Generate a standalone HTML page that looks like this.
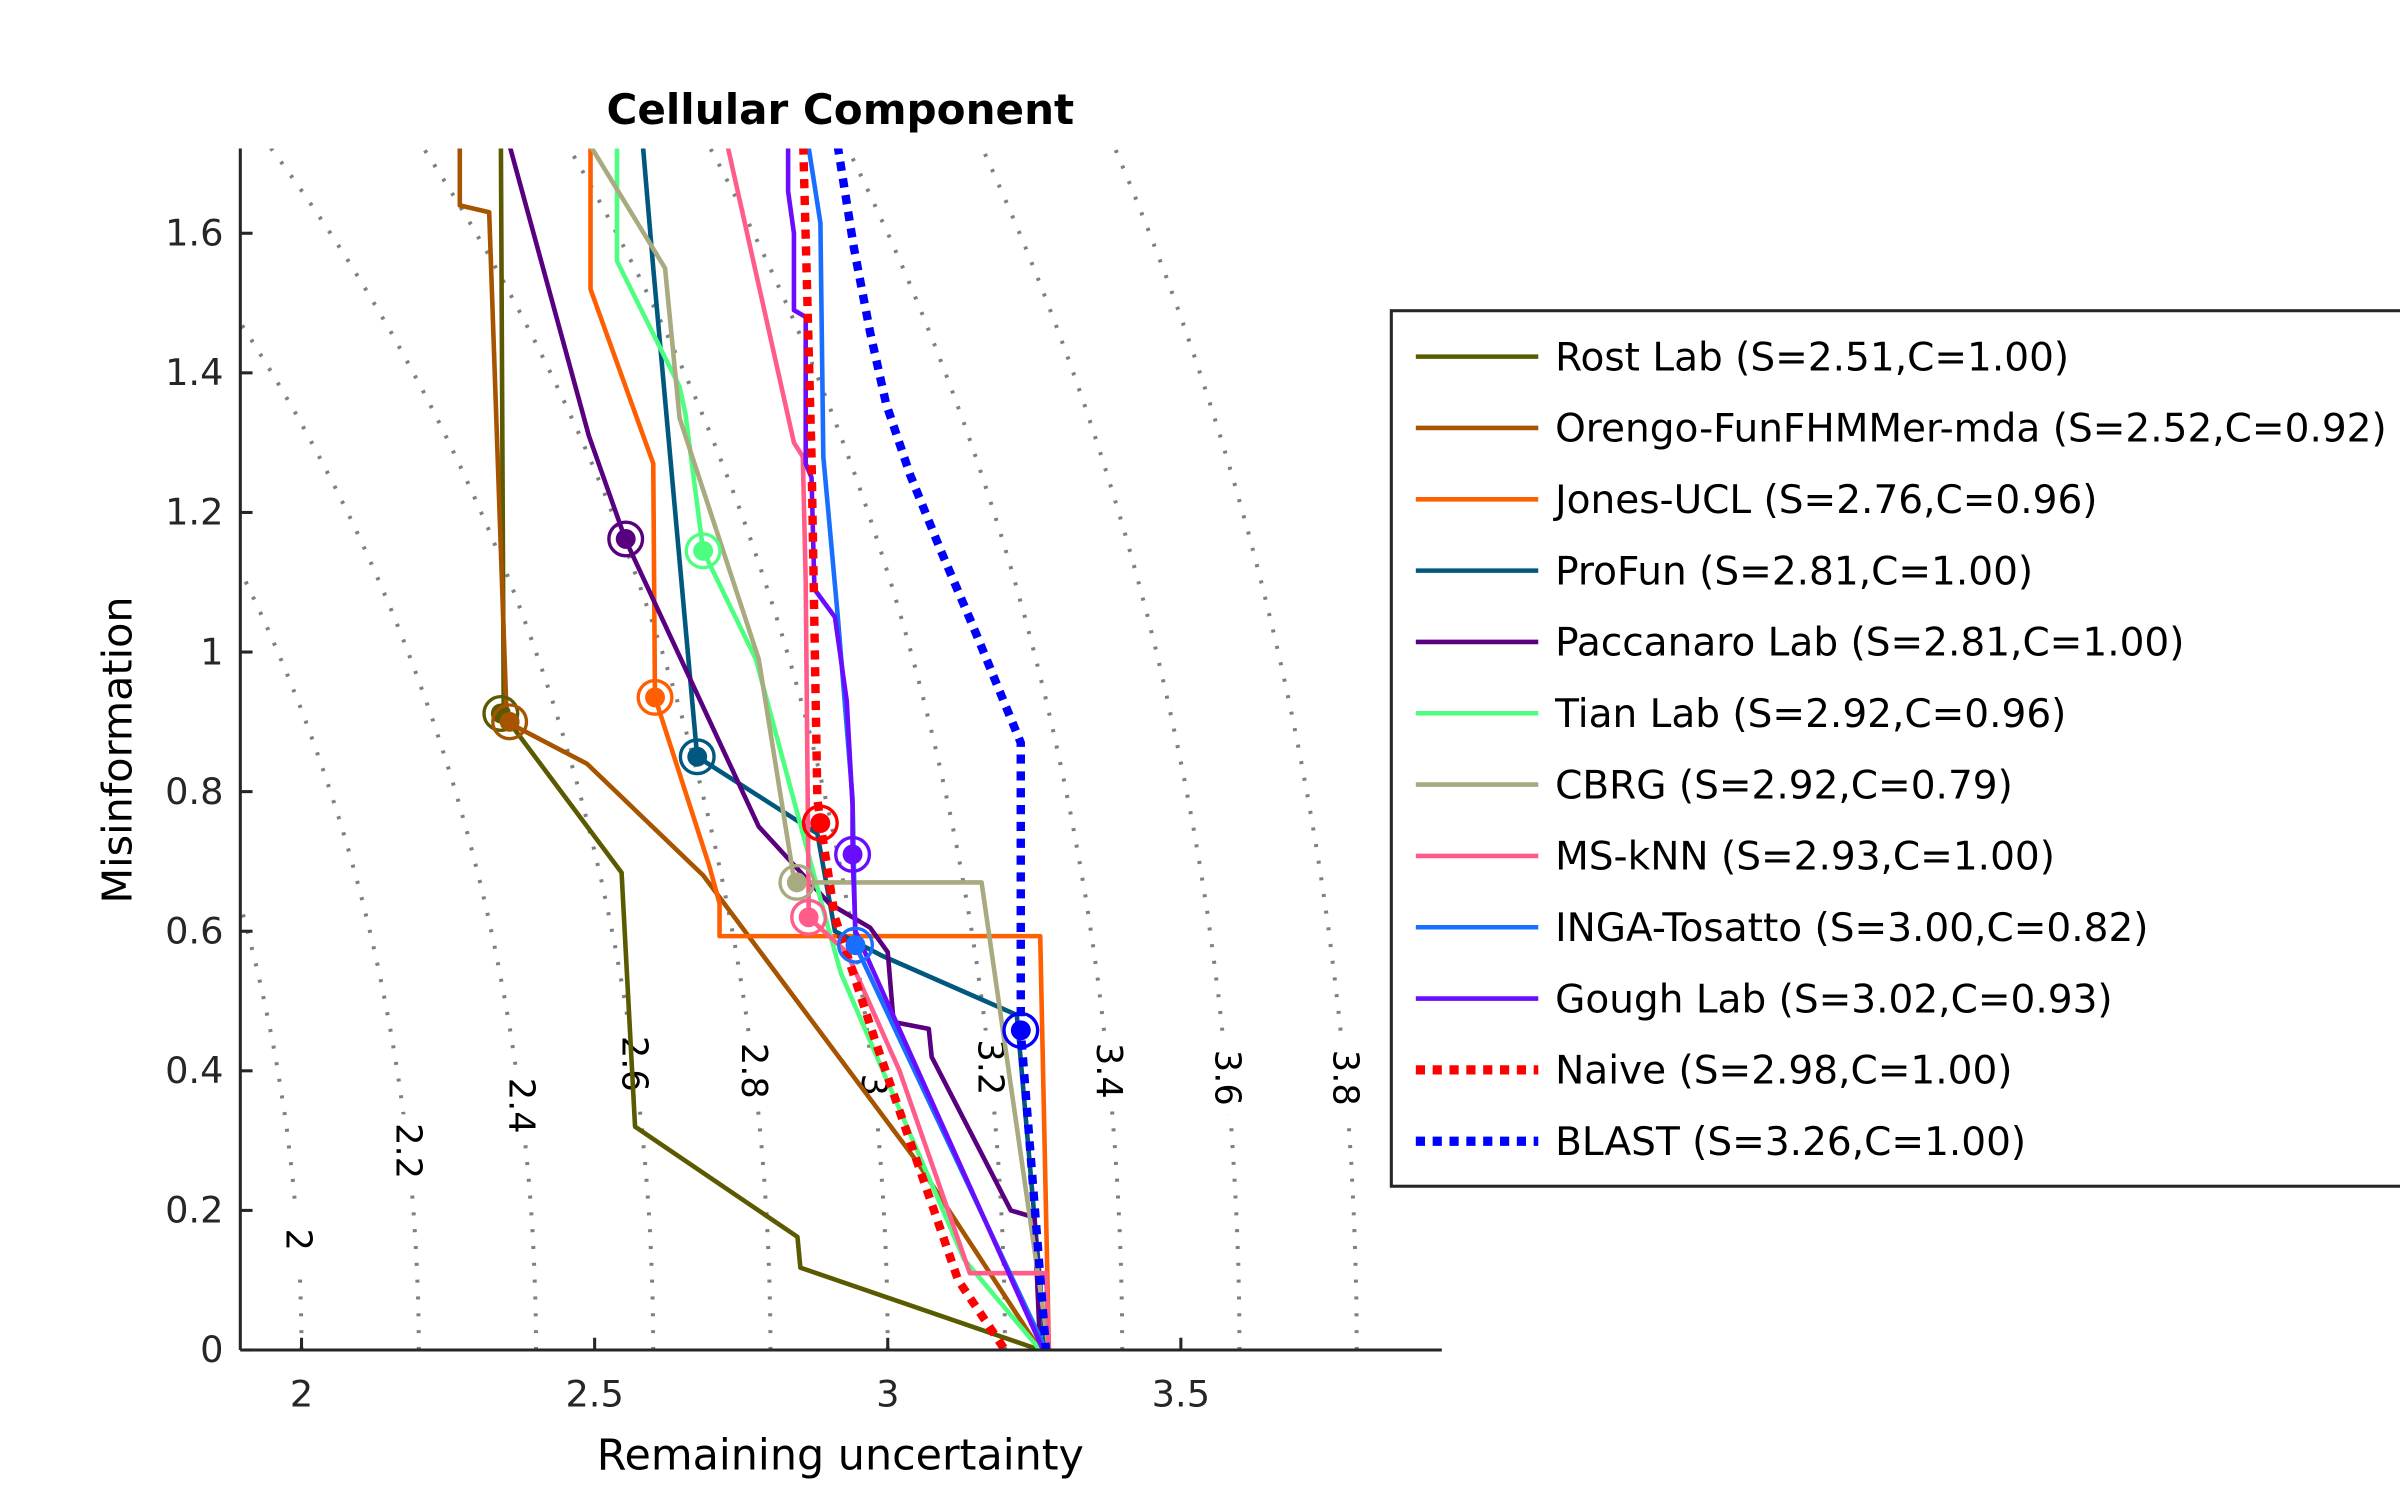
<!DOCTYPE html>
<html><head><meta charset="utf-8"><style>
html,body{margin:0;padding:0;background:#fff;}
svg{display:block;font-family:"DejaVu Sans","Liberation Sans",sans-serif;}
</style></head><body>
<svg id="chart" width="2400" height="1500" viewBox="0 0 1568 980" xmlns="http://www.w3.org/2000/svg">
<defs><clipPath id="plotclip"><rect x="157" y="97" width="785" height="785"/></clipPath></defs>
<text x="549" y="81" text-anchor="middle" font-size="27.5" font-weight="bold">Cellular Component</text>
<g id="contours" clip-path="url(#plotclip)"></g>
<g id="contourLabels"></g>
<g id="series" clip-path="url(#plotclip)"></g>
<g id="axes"></g>
<text x="549" y="960" text-anchor="middle" font-size="28">Remaining uncertainty</text>
<text transform="translate(86,490) rotate(-90)" text-anchor="middle" font-size="27">Misinformation</text>
<g id="legend"></g>
</svg>
<script>
const xTicks = [2, 2.5, 3, 3.5];
const xTickLabels = ["2", "2.5", "3", "3.5"];
const yTicks = [0, 0.2, 0.4, 0.6, 0.8, 1, 1.2, 1.4, 1.6];
const yTickLabels = ["0", "0.2", "0.4", "0.6", "0.8", "1", "1.2", "1.4", "1.6"];
const contourLevels = [2, 2.2, 2.4, 2.6, 2.8, 3, 3.2, 3.4, 3.6, 3.8];
const contourLabelY = [0.158, 0.285, 0.35, 0.41, 0.40, 0.38, 0.405, 0.40, 0.39, 0.39];
const seriesNames = ["Rost Lab (S=2.51,C=1.00)","Orengo-FunFHMMer-mda (S=2.52,C=0.92)","Jones-UCL (S=2.76,C=0.96)","ProFun (S=2.81,C=1.00)","Paccanaro Lab (S=2.81,C=1.00)","Tian Lab (S=2.92,C=0.96)","CBRG (S=2.92,C=0.79)","MS-kNN (S=2.93,C=1.00)","INGA-Tosatto (S=3.00,C=0.82)","Gough Lab (S=3.02,C=0.93)","Naive (S=2.98,C=1.00)","BLAST (S=3.26,C=1.00)"];
const seriesColors = ["#5a5a00","#a65400","#ff5f00","#00587f","#58007f","#4dff80","#aaaa80","#ff5c8a","#1a6eff","#6a0dff","#ff0000","#0000ff"];
const seriesDotted = [false,false,false,false,false,false,false,false,false,false,true,true];
const rostX = [2.34,2.345,2.546,2.569,2.846,2.851,3.26];
const rostY = [1.75,0.91,0.684,0.32,0.162,0.118,0];
const orengoX = [2.27,2.27,2.32,2.35,2.487,2.685,3.05,3.26];
const orengoY = [1.75,1.64,1.63,0.90,0.84,0.68,0.27,0];
const jonesX = [2.493,2.493,2.6,2.603,2.695,2.713,2.713,3.26,3.275];
const jonesY = [1.75,1.52,1.27,0.935,0.695,0.64,0.593,0.593,0];
const profunX = [2.58,2.6,2.675,2.88,2.91,2.99,3.22,3.27];
const profunY = [1.75,1.55,0.85,0.74,0.60,0.565,0.48,0];
const paccX = [2.347,2.49,2.553,2.78,2.9,2.97,3.0,3.01,3.07,3.075,3.21,3.25,3.26];
const paccY = [1.75,1.31,1.16,0.75,0.64,0.605,0.57,0.47,0.46,0.42,0.2,0.19,0];
const tianX = [2.538,2.538,2.645,2.655,2.685,2.775,2.9,2.92,3.13,3.26];
const tianY = [1.75,1.56,1.38,1.34,1.145,0.99,0.6,0.54,0.13,0];
const cbrgX = [2.475,2.62,2.645,2.78,2.84,2.845,3.16,3.275];
const cbrgY = [1.75,1.55,1.335,0.99,0.675,0.67,0.67,0];
const msknnX = [2.72,2.84,2.855,2.86,2.865,2.865,2.93,3.02,3.14,3.27,3.275];
const msknnY = [1.75,1.3,1.28,1.1,0.65,0.62,0.57,0.4,0.11,0.11,0];
const ingaX = [2.86,2.885,2.89,2.915,2.94,2.945,3.27];
const ingaY = [1.75,1.615,1.28,1.05,0.79,0.58,0];
const goughX = [2.83,2.83,2.84,2.84,2.86,2.86,2.87,2.875,2.91,2.93,2.94,2.94,2.945,3.265];
const goughY = [1.75,1.66,1.6,1.49,1.48,1.27,1.25,1.09,1.05,0.93,0.78,0.71,0.6,0];
const naiveX = [2.855,2.87,2.88,2.885,2.91,2.98,3.12,3.2];
const naiveY = [1.75,1.28,0.79,0.755,0.62,0.44,0.10,0];
const blastX = [2.91,2.942,2.97,2.997,3.038,3.091,3.146,3.227,3.227,3.27];
const blastY = [1.75,1.58,1.458,1.356,1.254,1.144,1.036,0.87,0.458,0];
const seriesX = [rostX,orengoX,jonesX,profunX,paccX,tianX,cbrgX,msknnX,ingaX,goughX,naiveX,blastX];
const seriesY = [rostY,orengoY,jonesY,profunY,paccY,tianY,cbrgY,msknnY,ingaY,goughY,naiveY,blastY];
const markerX = [2.34,2.355,2.603,2.675,2.553,2.685,2.845,2.865,2.945,2.94,2.885,3.227];
const markerY = [0.912,0.90,0.935,0.85,1.162,1.145,0.67,0.62,0.58,0.71,0.755,0.458];

const NS = "http://www.w3.org/2000/svg";
function sx(v){ return 197 + (v - 2) * 383; }
function sy(v){ return 882 - v * 456; }
function mk(tag, attrs, parent){ const e = document.createElementNS(NS, tag); for (const k in attrs) e.setAttribute(k, attrs[k]); parent.appendChild(e); return e; }

const gC = document.getElementById('contours');
const gCL = document.getElementById('contourLabels');
contourLevels.forEach((s, i) => {
  let d = "";
  for (let k = 0; k <= 90; k++) {
    const a = k * Math.PI / 180;
    const px = sx(s * Math.cos(a)), py = sy(s * Math.sin(a));
    d += (k ? "L" : "M") + px.toFixed(1) + "," + py.toFixed(1);
  }
  const p = mk('path', {d: d, fill: 'none', stroke: '#808080', 'stroke-width': 2.6, 'stroke-dasharray': '2,9'}, gC);
  
  
  const ly = contourLabelY[i];
  const lx = Math.sqrt(s * s - ly * ly);
  const bg = mk('rect', {x: sx(lx) - 12, y: sy(ly) - 24, width: 24, height: 48, fill: '#fff'}, gCL);
  
  
  const t = mk('text', {transform: 'translate(' + sx(lx) + ',' + sy(ly) + ') rotate(90)', 'text-anchor': 'middle', 'dominant-baseline': 'central', 'font-size': 23}, gCL);
  t.textContent = String(s);
  
  
});

const gS = document.getElementById('series');
seriesX.forEach((xs, i) => {
  const pts = xs.map((x, j) => sx(x).toFixed(1) + "," + sy(seriesY[i][j]).toFixed(1)).join(" ");
  const attrs = {points: pts, fill: 'none', stroke: seriesColors[i], 'stroke-width': seriesDotted[i] ? 5.5 : 3, 'stroke-linejoin': 'round'};
  if (seriesDotted[i]) attrs['stroke-dasharray'] = '6,5';
  const pl = mk('polyline', attrs, gS);
  
  
});
markerX.forEach((x, i) => {
  const r = mk('circle', {cx: sx(x), cy: sy(markerY[i]), r: 11, fill: 'none', stroke: seriesColors[i], 'stroke-width': 2.2}, gS);
  
  
  const c = mk('circle', {cx: sx(x), cy: sy(markerY[i]), r: 6.5, fill: seriesColors[i]}, gS);
  
  
});

const gA = document.getElementById('axes');
const xl = mk('line', {x1: 157, y1: 882, x2: 942, y2: 882, stroke: '#262626', 'stroke-width': 2}, gA);


const yl = mk('line', {x1: 157, y1: 97, x2: 157, y2: 882, stroke: '#262626', 'stroke-width': 2}, gA);


xTicks.forEach((v, i) => {
  const tk = mk('line', {x1: sx(v), y1: 882, x2: sx(v), y2: 874, stroke: '#262626', 'stroke-width': 2}, gA);
  
  
  const t = mk('text', {x: sx(v), y: 919, 'text-anchor': 'middle', 'font-size': 24, fill: '#262626'}, gA);
  t.textContent = xTickLabels[i];
  
  
});
yTicks.forEach((v, i) => {
  const tk = mk('line', {x1: 157, y1: sy(v), x2: 165, y2: sy(v), stroke: '#262626', 'stroke-width': 2}, gA);
  
  
  const t = mk('text', {x: 146, y: sy(v) + 8, 'text-anchor': 'end', 'font-size': 24, fill: '#262626'}, gA);
  t.textContent = yTickLabels[i];
  
  
});

const gL = document.getElementById('legend');
const box = mk('rect', {x: 909, y: 203, width: 700, height: 572, fill: '#fff', stroke: '#262626', 'stroke-width': 2}, gL);


seriesNames.forEach((n, i) => {
  const y = 233 + i * 46.6;
  const attrs = {x1: 925, y1: y, x2: 1005, y2: y, stroke: seriesColors[i], 'stroke-width': seriesDotted[i] ? 6 : 3};
  if (seriesDotted[i]) attrs['stroke-dasharray'] = '6,5';
  const ln = mk('line', attrs, gL);
  
  
  const t = mk('text', {x: 1016, y: y + 9, 'font-size': 25.5, fill: '#000'}, gL);
  t.textContent = n;
  
  
});
</script>
</body></html>
